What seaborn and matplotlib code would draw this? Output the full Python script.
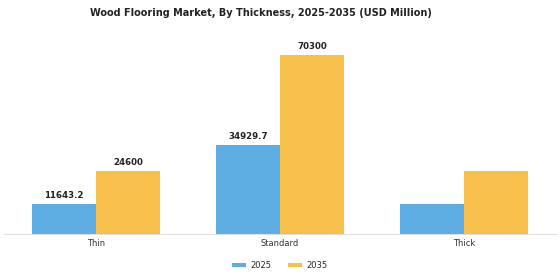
import pandas as pd
import matplotlib.pyplot as plt
import seaborn as sns

categories = ['Thin', 'Standard', 'Thick']
years = ['2025', '2035']
values_2025 = [11643.2, 34929.7, 11643.2]
values_2035 = [24600, 70300, 24600]
labels_2025 = ['11643.2', '34929.7', '']
labels_2035 = ['24600', '70300', '']

df = pd.DataFrame({
    'Thickness': categories * 2,
    'Year': [years[0]] * 3 + [years[1]] * 3,
    'Value': values_2025 + values_2035,
})

sns.set_style('white')
fig, ax = plt.subplots(figsize=(5.6, 2.8), dpi=100)
fig.subplots_adjust(left=0.007, right=0.993, top=0.87, bottom=0.165)

sns.barplot(data=df, x='Thickness', y='Value', hue='Year',
            palette=['#5DADE2', '#F7C04A'], width=0.7, saturation=1,
            edgecolor='none', linewidth=0, ax=ax)

for cont, labs in zip(ax.containers, [labels_2025, labels_2035]):
    ax.bar_label(cont, labels=labs, padding=3, fontsize=6.2, fontweight='bold',
                 color='#222222')

ax.set_ylim(0, 77500)
ax.set_xlim(-0.5, 2.5)
ax.set_xlabel('')
ax.set_ylabel('')
ax.set_yticks([])
ax.tick_params(axis='x', labelsize=6, colors='#333333', length=2, width=0.5,
               pad=1.5)
for s in ['top', 'right', 'left']:
    ax.spines[s].set_visible(False)
ax.spines['bottom'].set_color('#dddddd')
ax.spines['bottom'].set_linewidth(0.8)

ax.set_title('Wood Flooring Market, By Thickness, 2025-2035 (USD Million)',
             fontsize=7, fontweight='bold', color='#222222', pad=15, x=0.466)

ax.legend(loc='upper center', bbox_to_anchor=(0.5, -0.1), ncol=2,
          frameon=False, fontsize=6, handlelength=1.6, handleheight=0.5,
          handletextpad=0.6, columnspacing=2.0)

fig.savefig('out.png', dpi=100)
